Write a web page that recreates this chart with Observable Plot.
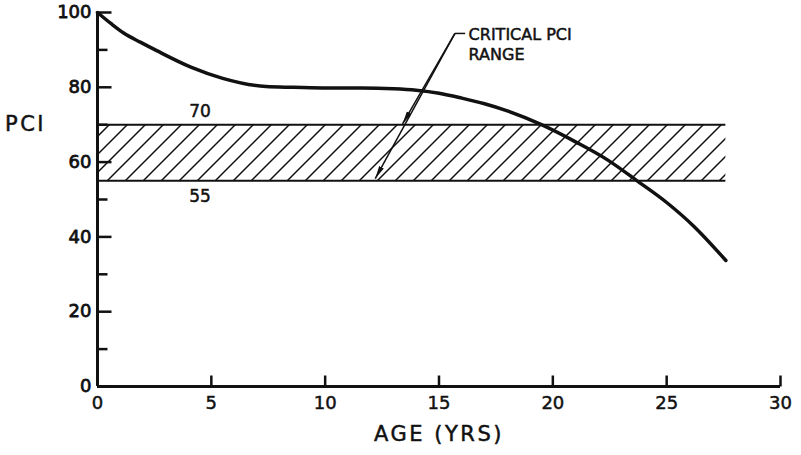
<!DOCTYPE html>
<html>
<head>
<meta charset="utf-8">
<script src="https://cdn.jsdelivr.net/npm/d3@7"></script>
<script src="https://cdn.jsdelivr.net/npm/@observablehq/plot@0.6"></script>
<style>
  body { margin: 0; background: #fff; }
  .spaced text { letter-spacing: 2.5px; }
</style>
</head>
<body>
<div id="chart"></div>
<script>
// Pavement condition index (PCI) deterioration with age
const age = [0, 0.6, 1.15, 1.9, 2.6, 4.1, 5.5, 7.4, 8.6, 10.1, 11.6, 13.0, 14.0, 15.0, 16.0, 17.0, 18.0, 19.5, 21.0, 22.4, 23.7, 25.0, 26.2, 27.6];
const pci = [100, 97.0, 94.5, 92.0, 89.8, 85.4, 82.4, 80.2, 80.0, 79.8, 79.8, 79.6, 79.2, 78.4, 77.1, 75.6, 73.7, 70.0, 65.4, 60.6, 55.0, 49.2, 42.8, 33.7];

// Critical PCI band
const bandLow = 55;
const bandHigh = 70;
const bandEndAge = 27.6;

// Axis ticks
const xTicks = [0, 5, 10, 15, 20, 25, 30];
const yMajorTicks = [0, 20, 40, 60, 80, 100];
const yMinorTicks = [10, 30, 50, 70, 90];

// Annotation: leader corner, text and the two arrow tips
const calloutText = "CRITICAL PCI\nRANGE";
const calloutCorner = {age: 15.7, pci: 94.4};
const calloutTextAnchor = {age: 16.3, pci: 91.6};
const calloutTips = [{age: 13.4, pci: 70.2}, {age: 12.2, pci: 55.6}];

const curve = age.map((a, i) => ({age: a, pci: pci[i]}));
const band = [{x1: 0, x2: bandEndAge, y1: bandLow, y2: bandHigh}];

// custom tick-mark symbols (drawn inward from the axis)
const tickRight = (len) => ({draw(ctx) { ctx.moveTo(0, 0); ctx.lineTo(len, 0); }});
const tickUp = (len) => ({draw(ctx) { ctx.moveTo(0, 0); ctx.lineTo(0, -len); }});

// solid, narrow arrowhead marker
const filledArrow = (color, context) => {
  const m = d3.select(context.document.createElementNS("http://www.w3.org/2000/svg", "marker"))
    .attr("viewBox", "-13 -3 13 6")
    .attr("markerWidth", 13)
    .attr("markerHeight", 6)
    .attr("markerUnits", "userSpaceOnUse")
    .attr("orient", "auto")
    .attr("fill", color)
    .attr("stroke", "none");
  m.append("path").attr("d", "M0,0L-13,-2.6L-13,2.6Z");
  return m.node();
};

// diagonal hatch pattern definition
const hatchDefs = () => {
  const defs = d3.create("svg:defs");
  const p = defs.append("pattern")
    .attr("id", "hatch")
    .attr("patternUnits", "userSpaceOnUse")
    .attr("width", 18).attr("height", 18);
  p.append("path")
    .attr("d", "M0,18L18,0M-4.5,4.5L4.5,-4.5M13.5,22.5L22.5,13.5")
    .attr("stroke", "#111").attr("stroke-width", 1.5).attr("fill", "none");
  return defs.node();
};

// slightly heavier lettering
const ink = {fill: "#111", stroke: "#111", strokeWidth: 0.8};

const chart = Plot.plot({
  width: 801,
  height: 455,
  marginLeft: 97,
  marginRight: 21,
  marginTop: 12,
  marginBottom: 69,
  x: {domain: [0, 30], axis: null},
  y: {domain: [0, 100], axis: null},
  style: {fontFamily: "DejaVu Sans", background: "white", color: "black", overflow: "visible"},
  marks: [
    hatchDefs,
    // hatched critical range
    Plot.rect(band, {x1: "x1", x2: "x2", y1: "y1", y2: "y2", fill: "url(#hatch)"}),
    Plot.ruleY([bandLow, bandHigh], {x1: 0, x2: bandEndAge, stroke: "#111", strokeWidth: 2}),
    Plot.text([bandHigh], {x: 4.5, y: d => d, text: d => String(d), dy: -13, fontSize: 17, ...ink, strokeWidth: 0.5}),
    Plot.text([bandLow], {x: 4.5, y: d => d, text: d => String(d), dy: 16, fontSize: 17, ...ink, strokeWidth: 0.5}),

    // axes
    Plot.ruleX([0], {y1: 0, y2: 100, stroke: "#111", strokeWidth: 3}),
    Plot.ruleY([0], {x1: 0, x2: 30, stroke: "#111", strokeWidth: 3}),
    Plot.dot(yMajorTicks, {x: 0, y: d => d, symbol: tickRight(14), fill: "none", stroke: "#111", strokeWidth: 2.5}),
    Plot.dot(yMinorTicks, {x: 0, y: d => d, symbol: tickRight(10), fill: "none", stroke: "#111", strokeWidth: 2.5}),
    Plot.dot(xTicks.filter(d => d > 0), {x: d => d, y: 0, symbol: tickUp(11), fill: "none", stroke: "#111", strokeWidth: 2.5}),
    Plot.text(yMajorTicks, {x: 0, y: d => d, text: d => String(d), textAnchor: "end", dx: -6, fontSize: 18, ...ink}),
    Plot.text(xTicks, {x: d => d, y: 0, text: d => String(d), lineAnchor: "top", dy: 10, fontSize: 18, ...ink, strokeWidth: 0.5}),
    Plot.text(["PCI"], {frameAnchor: "left", y: 70, text: d => d, textAnchor: "middle", dx: -72, fontSize: 21, ...ink, strokeWidth: 0.5, className: "spaced"}),
    Plot.text(["AGE (YRS)"], {frameAnchor: "bottom", x: 15, text: d => d, dy: 54, fontSize: 21, ...ink, strokeWidth: 0.5, className: "spaced"}),

    // PCI curve
    Plot.line(curve, {x: "age", y: "pci", curve: "monotone-x", stroke: "#111", strokeWidth: 3.5}),

    // callout
    Plot.link([calloutCorner], {x1: "age", y1: "pci", x2: calloutTextAnchor.age - 0.15, y2: "pci", stroke: "#111", strokeWidth: 1.5}),
    Plot.link(calloutTips, {x1: calloutCorner.age, y1: calloutCorner.pci, x2: "age", y2: "pci", stroke: "#111", strokeWidth: 1.5, markerEnd: filledArrow}),
    Plot.text([calloutText], {x: calloutTextAnchor.age, y: calloutTextAnchor.pci, text: d => d, textAnchor: "start", fontSize: 16, lineHeight: 1.2, ...ink, strokeWidth: 0.5})
  ]
});

document.getElementById("chart").append(chart);
</script>
</body>
</html>
